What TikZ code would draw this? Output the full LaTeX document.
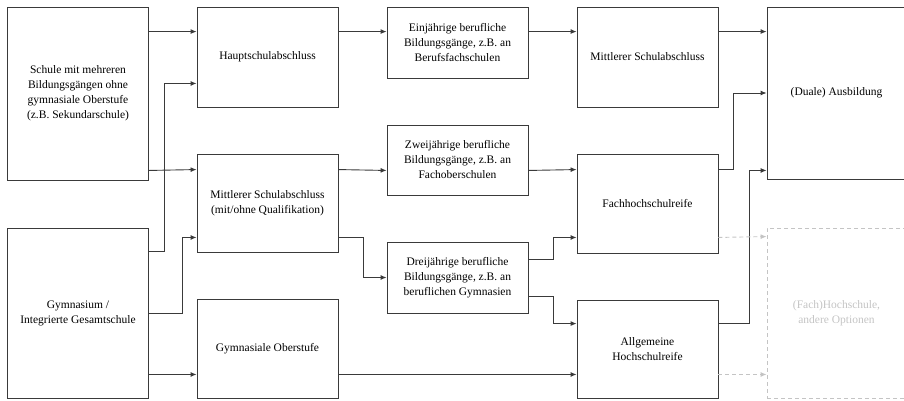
\documentclass[tikz,border=0pt]{standalone}
\usepackage{fontspec}
\setmainfont{Liberation Serif}
\usetikzlibrary{arrows.meta}
\definecolor{linegray}{HTML}{3A3A3A}
\definecolor{ghost}{HTML}{C4C4C4}
\begin{document}
\begin{tikzpicture}[x=1pt, y=-1pt, font=\fontsize{11.5}{15}\selectfont,
		box/.style={draw=linegray, line width=0.9pt, align=center, inner sep=0pt, minimum width=141pt},
		arr/.style={draw=linegray, line width=0.9pt, -{Latex[length=6pt,width=5pt]}},
		faint/.style={draw=ghost, line width=0.9pt, dashed, dash pattern=on 4pt off 3pt}]
		\useasboundingbox (0,0) rectangle (904,400);
		% first column
		\node[box, minimum height=173pt] (schule) at (78,93.5) {Schule mit mehreren\\Bildungsgängen ohne\\gymnasiale Oberstufe\\(z.B. Sekundarschule)};
		\node[box, minimum height=170pt] (gymnasium) at (78,313) {Gymnasium /\\Integrierte Gesamtschule};
		% second column
		\node[box, minimum height=100pt] (hauptschul) at (267.5,57) {Hauptschulabschluss};
		\node[box, minimum height=98pt] (mittlerer) at (267.5,203) {Mittlerer Schulabschluss\\(mit/ohne Qualifikation)};
		\node[box, minimum height=99pt] (oberstufe) at (267.5,348.5) {Gymnasiale Oberstufe};
		% third column
		\node[box, minimum height=71pt] (einjaehrig) at (457.5,42.5) {Einjährige berufliche\\Bildungsgänge, z.B. an\\Berufsfachschulen};
		\node[box, minimum height=70pt] (zweijaehrig) at (457.5,160) {Zweijährige berufliche\\Bildungsgänge, z.B. an\\Fachoberschulen};
		\node[box, minimum height=71pt] (dreijaehrig) at (457.5,277.5) {Dreijährige berufliche\\Bildungsgänge, z.B. an\\beruflichen Gymnasien};
		% fourth column
		\node[box, minimum height=100pt] (msa) at (647.5,57) {Mittlerer Schulabschluss};
		\node[box, minimum height=99pt] (fhr) at (647.5,203.5) {Fachhochschulreife};
		\node[box, minimum height=98pt] (ahr) at (647.5,349) {Allgemeine\\Hochschulreife};
		% last column
		\node[box, minimum width=139pt, minimum height=172pt] (ausbildung) at (836.5,93) {(Duale) Ausbildung};
		\node[faint, text=ghost, align=center, inner sep=0pt, minimum width=139pt, minimum height=170pt] (hochschule) at (836.5,313) {(Fach)Hochschule,\\andere Optionen};

		\draw[arr] ([yshift=-25pt]schule.north east) -- ([yshift=-25pt]hauptschul.north west);
		\draw[arr] ([yshift=10pt]schule.south east) -- ([yshift=-16pt]mittlerer.north west);
		\draw[arr] ([yshift=-24pt]gymnasium.north east) -- ++(15,0) |- ([yshift=24pt]hauptschul.south west);
		\draw[arr] (gymnasium.east) -- ++(33,0) |- ([yshift=15pt]mittlerer.south west);
		\draw[arr] ([yshift=24pt]gymnasium.south east) -- ([yshift=24pt]oberstufe.south west);

		\draw[arr] ([yshift=-25pt]hauptschul.north east) -- ([yshift=-25pt]einjaehrig.north west);
		\draw[arr] ([yshift=-16pt]mittlerer.north east) -- ([yshift=25pt]zweijaehrig.south west);
		\draw[arr] ([yshift=15pt]mittlerer.south east) -- ++(25,0) |- (dreijaehrig.west);

		\draw[arr] ([yshift=-25pt]einjaehrig.north east) -- ([yshift=-25pt]msa.north west);
		\draw[arr] ([yshift=25pt]zweijaehrig.south east) -- ([yshift=-16pt]fhr.north west);
		\draw[arr] ([yshift=-18pt]dreijaehrig.north east) -- ++(25,0) |- ([yshift=16pt]fhr.south west);
		\draw[arr] ([yshift=17pt]dreijaehrig.south east) -- ++(25,0) |- ([yshift=-24pt]ahr.north west);
		\draw[arr] ([yshift=24pt]oberstufe.south east) -- ([yshift=24pt]ahr.south west);

		\draw[arr] ([yshift=-25pt]msa.north east) -- ([yshift=-25pt]ausbildung.north west);
		\draw[arr] ([yshift=-16pt]fhr.north east) -- ++(15,0) |- (ausbildung.west);
		\draw[arr] ([yshift=-24pt]ahr.north east) -- ++(31,0) |- ([yshift=9pt]ausbildung.south west);
		\draw[arr, draw=ghost, dashed, dash pattern=on 4pt off 3pt] ([yshift=16pt]fhr.south east) -- ([yshift=-9pt]hochschule.north west);
		\draw[arr, draw=ghost, dashed, dash pattern=on 4pt off 3pt] ([yshift=24pt]ahr.south east) -- ([yshift=24pt]hochschule.south west);
	\end{tikzpicture}
\end{document}
